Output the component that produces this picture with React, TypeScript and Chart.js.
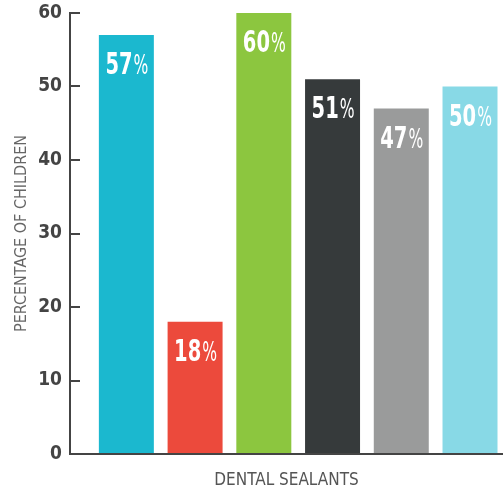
import React, { useEffect, useRef } from "react";
import { Chart, registerables } from "chart.js";

Chart.register(...registerables);

const categories = ["Group A", "Group B", "Group C", "Group D", "Group E", "Group F"];
const positions = [1, 2, 3, 4, 5, 6];
const values = [57, 18, 60, 51, 47, 50];
const colors = ["#1bb8cf", "#ec4a3c", "#8cc63f", "#363a3b", "#9a9b9b", "#88d9e6"];
const yTicks = [0, 10, 20, 30, 40, 50, 60];
const xTitle = "DENTAL SEALANTS";
const yTitle = "PERCENTAGE OF CHILDREN";

const FONT = "'Liberation Sans Narrow', 'DejaVu Sans', sans-serif";

const valueLabelPlugin = {
  id: "valueLabels",
  afterDatasetsDraw(chart: any) {
    const ctx = chart.ctx;
    const meta = chart.getDatasetMeta(0);
    ctx.save();
    ctx.fillStyle = "#ffffff";
    ctx.textBaseline = "alphabetic";
    ctx.textAlign = "left";
    const sx1 = 0.65;
    const sx2 = 0.6;
    meta.data.forEach((bar: any, i: number) => {
      const num = String(values[i]);
      ctx.font = "bold 30px 'DejaVu Sans', sans-serif";
      const w1 = ctx.measureText(num).width * sx1;
      ctx.font = "26px 'DejaVu Sans', sans-serif";
      const w2 = ctx.measureText("%").width * sx2;
      const start = bar.x - (w1 + w2) / 2;
      const base = bar.y + 39;
      ctx.save();
      ctx.translate(start, base);
      ctx.scale(sx1, 1);
      ctx.font = "bold 30px 'DejaVu Sans', sans-serif";
      ctx.fillText(num, 0, 0);
      ctx.restore();
      ctx.save();
      ctx.translate(start + w1 + 1, base);
      ctx.scale(sx2, 1);
      ctx.font = "26px 'DejaVu Sans', sans-serif";
      ctx.fillText("%", 0, 0);
      ctx.restore();
    });
    ctx.restore();
  },
};

export default function App() {
  const ref = useRef<HTMLCanvasElement>(null);
  useEffect(() => {
    if (!ref.current) return;
    const chart = new Chart(ref.current, {
      type: "bar",
      data: {
        labels: categories,
        datasets: [
          {
            data: positions.map((p, i) => ({ x: p, y: values[i] })),
            backgroundColor: colors,
            borderWidth: 0,
            categoryPercentage: 0.8,
            barPercentage: 1,
          },
        ],
      },
      options: {
        responsive: false,
        animation: false,
        layout: { padding: { top: 13, right: 0, left: 0, bottom: 0 } },
        plugins: { legend: { display: false }, tooltip: { enabled: false } },
        scales: {
          x: {
            type: "linear",
            offset: false,
            min: 0.18,
            max: 6.48,
            afterBuildTicks: (s: any) => {
              s.ticks = positions.map((v) => ({ value: v }));
            },
            grid: { display: false, drawTicks: false, offset: false },
            border: { display: true, color: "#444", width: 2 },
            ticks: { display: false },
            title: {
              display: true,
              text: xTitle,
              color: "#555",
              font: { family: FONT, size: 17, weight: "condensed" as any },
              padding: { top: 10, bottom: 0 },
            },
            afterFit: (s: any) => {
              s.height = 37;
              s.paddingLeft = 0;
              s.paddingRight = 0;
            },
          },
          y: {
            min: 0,
            max: 60,
            afterBuildTicks: (s: any) => {
              s.ticks = yTicks.map((v) => ({ value: v }));
            },
            grid: {
              drawOnChartArea: false,
              drawTicks: true,
              tickLength: -10,
              color: "#444",
              lineWidth: 2,
            },
            border: { display: true, color: "#444", width: 2 },
            ticks: {
              color: "#444",
              padding: 18,
              font: { family: FONT, size: 19, weight: "bold condensed" as any },
            },
            title: {
              display: true,
              text: yTitle,
              color: "#666",
              font: { family: FONT, size: 16, weight: "condensed" as any },
              padding: { top: 12, bottom: 0 },
            },
            afterFit: (s: any) => {
              s.width = 70;
              s.paddingTop = 0;
              s.paddingBottom = 0;
            },
          },
        },
      },
      plugins: [valueLabelPlugin],
    });
    return () => chart.destroy();
  }, []);
  return (
    <div style={{ position: "fixed", left: 0, top: 0, width: 503, height: 491, background: "#fff" }}>
      <canvas ref={ref} width={503} height={491} />
    </div>
  );
}
